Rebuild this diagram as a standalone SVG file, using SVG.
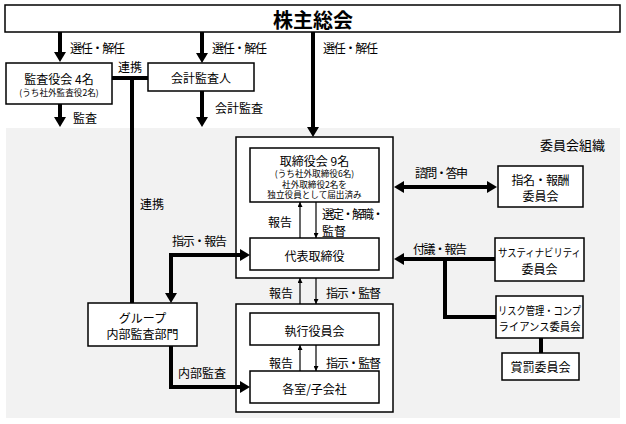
<svg xmlns="http://www.w3.org/2000/svg" width="626" height="424" viewBox="0 0 626 424">
<style>
text{font-family:"Noto Sans CJK JP","Noto Sans CJK SC",sans-serif;fill:#000;dominant-baseline:central}
.c{text-anchor:middle}
.m{font-size:12px}
.s{font-size:8.6px}
.box{fill:#fff;stroke:#000;stroke-width:1.5}
.thick{fill:none;stroke:#000;stroke-width:4}
.thin{fill:none;stroke:#000;stroke-width:1.2}
</style>
<defs>
<marker id="ah" viewBox="0 0 10 12" refX="0" refY="6" markerWidth="10" markerHeight="12" markerUnits="userSpaceOnUse" orient="auto-start-reverse">
<path d="M0,0 L10,6 L0,12 z" fill="#000"/>
</marker>
<marker id="sh" viewBox="0 0 5 5" refX="5" refY="2.5" markerWidth="5" markerHeight="5" markerUnits="userSpaceOnUse" orient="auto">
<path d="M0,0 L5,2.5 L0,5 z" fill="#000"/>
</marker>
</defs>
<rect x="6" y="128" width="614" height="290" fill="#f2f2f2"/>
<text x="605" y="144" font-size="13" text-anchor="end">委員会組織</text>

<g id="shareholders">
<rect class="box" x="5" y="5" width="615" height="27"/>
<text class="c" x="313" y="19" font-size="20" font-weight="bold">株主総会</text>
</g>
<g id="kansayakukai">
<rect class="box" x="6" y="63" width="106" height="41"/>
<text class="c m" x="59" y="78">監査役会 4名</text>
<text class="c s" x="59" y="92">(うち社外監査役2名)</text>
</g>
<g id="kaikei">
<rect class="box" x="148" y="63" width="106" height="28"/>
<text class="c m" x="201" y="77">会計監査人</text>
</g>
<g id="board-group">
<rect class="box" x="236" y="137" width="157" height="141"/>
</g>
<g id="torishimariyakukai">
<rect class="box" x="250" y="148" width="129" height="54"/>
<text class="c m" x="314.5" y="160">取締役会 9名</text>
<text class="c s" x="314.5" y="173">(うち社外取締役6名)</text>
<text class="c s" x="314.5" y="183.5">社外取締役2名を</text>
<text class="c s" x="314.5" y="194">独立役員として届出済み</text>
</g>
<g id="daihyo">
<rect class="box" x="250" y="238" width="129" height="32"/>
<text class="c m" x="314.5" y="255">代表取締役</text>
</g>
<g id="exec-group">
<rect class="box" x="236" y="304" width="157" height="108"/>
</g>
<g id="shikkou">
<rect class="box" x="250" y="313" width="129" height="32"/>
<text class="c m" x="314.5" y="330">執行役員会</text>
</g>
<g id="kakushitsu">
<rect class="box" x="250" y="371" width="129" height="32"/>
<text class="c m" x="314.5" y="388">各室/子会社</text>
</g>
<g id="group-audit">
<rect class="box" x="88" y="303" width="109" height="43"/>
<text class="c m" x="142.5" y="317">グループ</text>
<text class="c m" x="142.5" y="333">内部監査部門</text>
</g>
<g id="shimei">
<rect class="box" x="498" y="166" width="85" height="41"/>
<text class="c m" x="540.5" y="179" textLength="58" lengthAdjust="spacing">指名・報酬</text>
<text class="c m" x="540.5" y="195">委員会</text>
</g>
<g id="sustainability">
<rect class="box" x="495" y="238" width="89" height="43"/>
<text class="c" x="539.5" y="252" font-size="11" textLength="83" lengthAdjust="spacingAndGlyphs">サスティナビリティ</text>
<text class="c m" x="539.5" y="268">委員会</text>
</g>
<g id="risk">
<rect class="box" x="496" y="296" width="87" height="42"/>
<text class="c" x="539.5" y="310" font-size="11" textLength="83" lengthAdjust="spacingAndGlyphs">リスク管理・コンプ</text>
<text class="c" x="539.5" y="326" font-size="11" textLength="82" lengthAdjust="spacingAndGlyphs">ライアンス委員会</text>
</g>
<g id="shobatsu">
<rect class="box" x="502" y="353" width="77" height="27"/>
<text class="c m" x="540.5" y="366.5">賞罰委員会</text>
</g>

<g id="connectors">
<path class="thick" d="M60 32 V52" marker-end="url(#ah)"/>
<path class="thick" d="M202 32 V53" marker-end="url(#ah)"/>
<path class="thick" d="M313 32 V127" marker-end="url(#ah)"/>
<path class="thick" d="M60 104 V117" marker-end="url(#ah)"/>
<path class="thick" d="M202 91 V117" marker-end="url(#ah)"/>
<path class="thick" d="M112 78 H148 M132 78 V303"/>
<path class="thick" d="M240 255 H171 V293" marker-start="url(#ah)" marker-end="url(#ah)"/>
<path class="thick" d="M171 346 V387 H240" marker-end="url(#ah)"/>
<path class="thick" d="M404 187 H487" marker-start="url(#ah)" marker-end="url(#ah)"/>
<path class="thick" d="M495 259 H404" marker-end="url(#ah)"/>
<path class="thick" d="M445 259 V317 H496"/>
<path class="thick" d="M541 338 V353"/>
<path class="thin" d="M300 238 V202" marker-end="url(#sh)"/>
<path class="thin" d="M316 202 V238" marker-end="url(#sh)"/>
<path class="thin" d="M300 304 V278" marker-end="url(#sh)"/>
<path class="thin" d="M316 278 V304" marker-end="url(#sh)"/>
<path class="thin" d="M300 371 V345" marker-end="url(#sh)"/>
<path class="thin" d="M316 345 V371" marker-end="url(#sh)"/>
<text class="m" x="70" y="47" textLength="55" lengthAdjust="spacing">選任・解任</text>
<text class="m" x="212" y="47" textLength="55" lengthAdjust="spacing">選任・解任</text>
<text class="m" x="323" y="47" textLength="55" lengthAdjust="spacing">選任・解任</text>
<text class="m" x="73" y="117">監査</text>
<text class="m" x="215" y="107">会計監査</text>
<text class="m" x="118" y="66">連携</text>
<text class="m" x="140" y="203">連携</text>
<text class="m" x="172" y="240" textLength="55" lengthAdjust="spacing">指示・報告</text>
<text class="m" x="178" y="372">内部監査</text>
<text class="m" x="268" y="221">報告</text>
<text class="m" x="322" y="213" textLength="62" lengthAdjust="spacing">選定・解職・</text>
<text class="m" x="322" y="230">監督</text>
<text class="m" x="269" y="292">報告</text>
<text class="m" x="326" y="292" textLength="55" lengthAdjust="spacing">指示・監督</text>
<text class="m" x="269" y="362">報告</text>
<text class="m" x="326" y="362" textLength="55" lengthAdjust="spacing">指示・監督</text>
<text class="m" x="415" y="172" textLength="53" lengthAdjust="spacing">諮問・答申</text>
<text class="m" x="413" y="248" textLength="54" lengthAdjust="spacing">付議・報告</text>
</g>
</svg>
